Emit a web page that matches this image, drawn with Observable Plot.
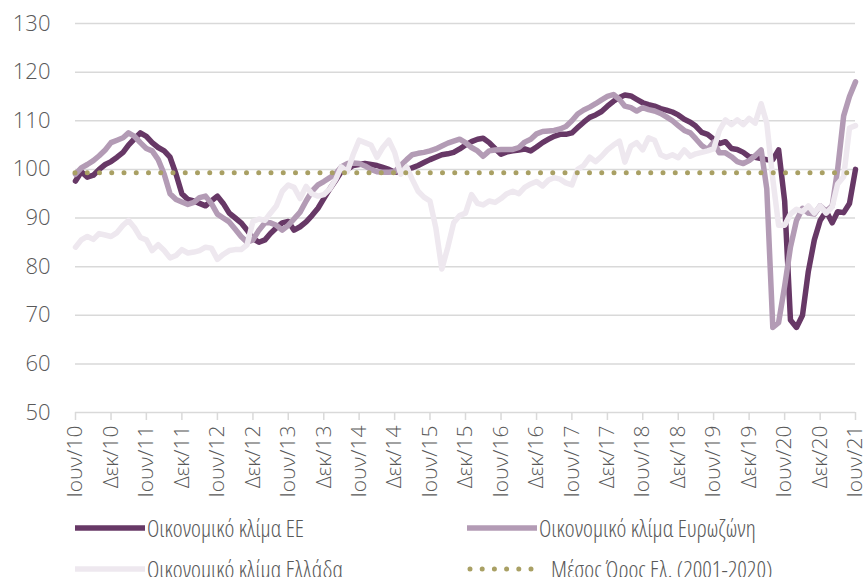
<!DOCTYPE html>
<html>
<head>
<meta charset="utf-8">
<script src="https://cdn.jsdelivr.net/npm/d3@7"></script>
<script src="https://cdn.jsdelivr.net/npm/@observablehq/plot@0.6"></script>
<style>
  html, body { margin: 0; padding: 0; background: #ffffff; overflow: hidden; }
  #wrap { position: relative; width: 865px; height: 577px; font-family: "Open Sans", sans-serif; font-weight: 300; color: #595959; }
  #legend { position: absolute; left: 0; top: 510px; width: 865px; height: 67px; }
  .item { position: absolute; display: flex; align-items: center; height: 30px; font-size: 23.5px; font-stretch: 80%; white-space: nowrap; }
  .item svg { display: block; }
</style>
</head>
<body>
<div id="wrap">
  <div id="chart"></div>
  <div id="legend"></div>
</div>
<script>
// ---- Data (monthly, Jun 2010 – Jun 2021) ----
const startYear = 2010, startMonth = 5; // June 2010

const climateEU = [
  97.6, 99.5, 98.4, 98.8, 100, 101, 101.6, 102.5, 103.5, 105, 106.3, 107.5,
  106.8, 105.5, 104.5, 103.8, 102.5, 99, 95, 93.8, 93.5, 93, 92.5, 93.5,
  94.5, 93, 91, 90, 89, 87.5, 85.8, 85, 85.5, 86.8, 88, 89,
  89.3, 87.5, 88.2, 89.2, 90.5, 92, 94, 96, 97.8, 99.5, 100, 100.8,
  101, 101.2, 101, 100.8, 100.4, 100, 99.4, 99.5, 100, 100.3, 100.8, 101.4,
  102, 102.5, 103, 103.2, 103.5, 104.2, 105, 105.7, 106.2, 106.4, 105.5, 104.3,
  103.1, 103.6, 103.8, 104, 104.2, 103.8, 104.6, 105.5, 106.2, 106.8, 107.2, 107.2,
  107.5, 108.6, 109.7, 110.7, 111.2, 111.9, 113, 114, 114.8, 115.3, 115.1, 114.4,
  113.7, 113.3, 113, 112.5, 112.2, 111.8, 111.2, 110.3, 109.7, 108.9, 107.6, 107.2,
  106.2, 105.3, 105.7, 104.3, 104.1, 103.5, 102.6, 102.5, 102.2, 102, 102, 104,
  93.5, 69, 67.5, 70, 79, 85.5, 89.5, 91.4, 89, 91.3, 91.1, 93,
  100
];

const climateEurozone = [
  99, 100.3, 101, 101.8, 102.8, 104, 105.5, 106, 106.5, 107.5, 106.8, 105.5,
  104.3, 103.8, 102, 99, 95, 93.8, 93.3, 92.8, 93.2, 94.2, 94.5, 93,
  90.8, 90, 89.2, 87.7, 86.2, 85, 85.5, 87.5, 89, 89, 88.5, 87.5,
  88.5, 89.8, 91.2, 93.5, 95.5, 96.8, 97.5, 98.3, 99.2, 100.5, 101.2, 101.3,
  101.2, 100.7, 100, 99.5, 99.4, 99.4, 99.5, 100.8, 102, 103, 103.3, 103.5,
  103.8, 104.2, 104.8, 105.4, 105.8, 106.2, 105.5, 104.5, 103.8, 102.7, 103.8, 104,
  104.1, 104.1, 104.1, 104.5, 105.6, 106.2, 107.3, 107.8, 107.9, 108, 108.3, 108.8,
  110, 111.4, 112.2, 112.8, 113.5, 114.3, 115, 115.4, 114.4, 113, 112.7, 112,
  112.7, 112.3, 112, 111.5, 110.8, 110, 109, 108, 107.5, 106.3, 104.9, 104.1,
  105.6, 103.4, 103.4, 102.6, 101.6, 101.2, 101.8, 102.8, 104, 96, 67.5, 68.5,
  76, 84, 89.5, 92, 91, 90.8, 92.5, 91.4, 92.5, 100, 111, 115,
  118
];

const climateGreece = [
  84, 85.5, 86.2, 85.6, 86.8, 86.5, 86.2, 87, 88.5, 89.5, 88, 86,
  85.5, 83.3, 84.5, 83.3, 81.8, 82.3, 83.5, 82.8, 83, 83.3, 84, 83.8,
  81.5, 82.5, 83.3, 83.5, 83.5, 84.5, 89.3, 89.8, 89.5, 91, 92.5, 95.5,
  96.8, 96.3, 94, 96.5, 95, 94.5, 94.8, 96, 98, 100.5, 99.5, 103,
  106, 105.5, 105, 102.5, 104.5, 106, 103.5, 99, 100.5, 98, 95.5, 94.3,
  93.5, 88, 79.5, 84, 89, 90.5, 91, 94.8, 93, 92.7, 93.5, 93.2,
  94, 95, 95.5, 95, 96.3, 97, 97.5, 96.6, 97.8, 98.3, 98, 97.2,
  96.8, 100, 100.8, 102.5, 101.6, 102.7, 104, 105, 105.8, 101.5, 104.8, 105.5,
  104, 106.5, 106, 103, 102.5, 103, 102.4, 104, 102.7, 103.2, 103.5, 103.8,
  104.2, 108, 110.2, 109.2, 110.2, 109.2, 110.5, 109.5, 113.5, 109.5, 98, 88.5,
  88.5, 90.8, 91.8, 91.3, 92.5, 91, 92.5, 91, 92.3, 97, 98.5, 108.5,
  109
];

const greeceAverage = 99.3; // Μέσος Όρος Ελ. (2001-2020)

const tickLabels = [
  "Ιουν/10", "Δεκ/10", "Ιουν/11", "Δεκ/11", "Ιουν/12", "Δεκ/12", "Ιουν/13", "Δεκ/13",
  "Ιουν/14", "Δεκ/14", "Ιουν/15", "Δεκ/15", "Ιουν/16", "Δεκ/16", "Ιουν/17", "Δεκ/17",
  "Ιουν/18", "Δεκ/18", "Ιουν/19", "Δεκ/19", "Ιουν/20", "Δεκ/20", "Ιουν/21"
];

const yTicks = [50, 60, 70, 80, 90, 100, 110, 120, 130];

const seriesNames = ["Οικονομικό κλίμα ΕΕ", "Οικονομικό κλίμα Ευρωζώνη", "Οικονομικό κλίμα Ελλάδα", "Μέσος Όρος Ελ. (2001-2020)"];
const seriesColors = ["#673866", "#b39bb5", "#eee8ef", "#a9a064"];

// ---- Build tables ----
const monthDate = i => new Date(Date.UTC(startYear, startMonth + i, 1));
const tickDates = tickLabels.map((_, i) => monthDate(i * 6));
const toRows = (arr, name) => arr.map((v, i) => ({date: monthDate(i), value: v, series: name}));
const rowsEU = toRows(climateEU, seriesNames[0]);
const rowsEZ = toRows(climateEurozone, seriesNames[1]);
const rowsGR = toRows(climateGreece, seriesNames[2]);
const lastDate = monthDate(climateEU.length - 1);

const fontFamily = '"Open Sans", sans-serif';

const chart = Plot.plot({
  width: 865,
  height: 510,
  marginLeft: 75,
  marginRight: 10,
  marginTop: 23,
  marginBottom: 98,
  style: {fontFamily, fontWeight: 300, color: "#595959", background: "#ffffff", overflow: "visible"},
  x: {type: "utc", domain: [monthDate(0), lastDate], label: null},
  y: {domain: [50, 130], label: null},
  marks: [
    Plot.gridY(yTicks.filter(d => d > 50), {stroke: "#d9d9d9", strokeOpacity: 1, strokeWidth: 1.5}),
    Plot.ruleY([50], {stroke: "#d9d9d9", strokeWidth: 1.5}),
    Plot.axisY(yTicks, {tickSize: 0, tickPadding: 25, fontSize: 22, fill: "#595959", label: null}),
    Plot.axisX(tickDates, {
      tickSize: 8, tickPadding: 5, tickRotate: -90, stroke: "#d9d9d9", strokeWidth: 1.5,
      fontSize: 21, fill: "#595959", label: null,
      tickFormat: d => tickLabels[tickDates.findIndex(t => +t === +d)]
    }),
    Plot.line(rowsEU, {x: "date", y: "value", stroke: seriesColors[0], strokeWidth: 5.5, strokeLinejoin: "round"}),
    Plot.line(rowsEZ, {x: "date", y: "value", stroke: seriesColors[1], strokeWidth: 5.5, strokeLinejoin: "round"}),
    Plot.line(rowsGR, {x: "date", y: "value", stroke: seriesColors[2], strokeWidth: 5.5, strokeLinejoin: "round"}),
    Plot.ruleY([greeceAverage], {x1: monthDate(0), x2: lastDate, stroke: seriesColors[3], strokeWidth: 5, strokeDasharray: "0,12.25", strokeLinecap: "round"})
  ]
});
document.getElementById("chart").appendChild(chart);

// ---- Legend ----
const legendPos = [
  {left: 75, top: 3, kind: "line"},
  {left: 467, top: 3, kind: "line"},
  {left: 75, top: 44, kind: "line"},
  {left: 467, top: 44, kind: "dots"}
];
const legend = document.getElementById("legend");
seriesNames.forEach((name, i) => {
  const p = legendPos[i];
  const div = document.createElement("div");
  div.className = "item";
  div.style.left = p.left + "px";
  div.style.top = p.top + "px";
  const w = p.kind === "dots" ? 84 : 72;
  let sw;
  if (p.kind === "dots") {
    sw = `<svg width="${w}" height="10"><line x1="3" y1="5" x2="68" y2="5" stroke="${seriesColors[i]}" stroke-width="5" stroke-linecap="round" stroke-dasharray="0,12.2"/></svg>`;
  } else {
    sw = `<svg width="${w}" height="10"><line x1="0" y1="5" x2="70" y2="5" stroke="${seriesColors[i]}" stroke-width="5.5"/></svg>`;
  }
  div.innerHTML = sw + `<span>${name}</span>`;
  legend.appendChild(div);
});
</script>
</body>
</html>
